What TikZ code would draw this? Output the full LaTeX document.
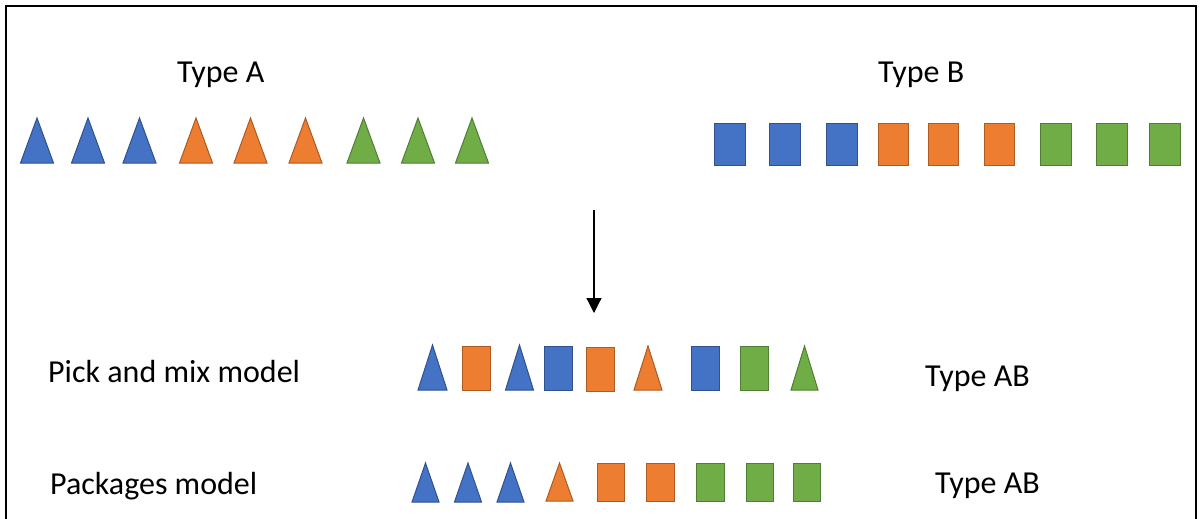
\documentclass[tikz,border=0pt]{standalone}
\usepackage{fontspec}
\setmainfont{Carlito}
\usetikzlibrary{arrows.meta}
\definecolor{cblue}{HTML}{4472C4}
\definecolor{cbluedk}{HTML}{2F528F}
\definecolor{corange}{HTML}{ED7D31}
\definecolor{corangedk}{HTML}{AE5A21}
\definecolor{cgreen}{HTML}{70AD47}
\definecolor{cgreendk}{HTML}{507E32}
\tikzset{
  bl/.style={fill=cblue,draw=cbluedk,line width=1pt},
  or/.style={fill=corange,draw=corangedk,line width=1pt},
  gr/.style={fill=cgreen,draw=cgreendk,line width=1pt},
  lbl/.style={anchor=base west,inner sep=0pt,font=\fontsize{32}{38}\selectfont},
}
% triangle: style, centre x, top y, bottom y, half width
\newcommand\mytri[5]{\draw[#1] (#2-#5,#4) -- (#2,#3) -- (#2+#5,#4) -- cycle;}
% box: style, left x, right x, top y, bottom y
\newcommand\mybox[5]{\draw[#1] (#2,#4) rectangle (#3,#5);}
\begin{document}
\begin{tikzpicture}[x=1pt,y=-1pt]
\useasboundingbox (0,0) rectangle (1203,519);
% frame
\draw[line width=2.2pt] (6,525) -- (6,6) -- (1196,6) -- (1196,525);
% labels
\node[lbl] (ta) at (177,82) {Type A};
\node[lbl] (tb) at (878,82) {Type B};
\node[lbl] (pm) at (48,382) {Pick and mix model};
\node[lbl] (pk) at (50,494) {Packages model};
\node[lbl] (ab1) at (925,386) {Type AB};
\node[lbl] (ab2) at (935,493) {Type AB};
% Type A triangles
\mytri{bl}{37}{118}{163}{16.5}
\mytri{bl}{88}{118}{163}{16.5}
\mytri{bl}{139.5}{118}{163}{16.5}
\mytri{or}{196}{118}{163}{16.5}
\mytri{or}{250.5}{118}{163}{16.5}
\mytri{or}{305.5}{118}{163}{16.5}
\mytri{gr}{363.5}{118}{163}{16.5}
\mytri{gr}{418}{118}{163}{16.5}
\mytri{gr}{472}{118}{163}{16.5}
% Type B boxes
\mybox{bl}{714}{745}{123}{165}
\mybox{bl}{769}{800}{123}{165}
\mybox{bl}{826}{857}{123}{165}
\mybox{or}{878}{908}{123}{165}
\mybox{or}{928}{958}{123}{165}
\mybox{or}{984}{1014}{123}{165}
\mybox{gr}{1040}{1071}{123}{165}
\mybox{gr}{1096}{1127}{123}{165}
\mybox{gr}{1149}{1180}{123}{165}
% arrow
\coordinate (as) at (594,210);
\coordinate (ae) at (594,313);
\draw[line width=1.2pt,-{Triangle[length=15pt,width=15pt]}] (as) -- (ae);
% pick and mix row
\mytri{bl}{432.5}{345}{390}{14.5}
\mybox{or}{462}{490}{346}{390}
\mytri{bl}{519.5}{345}{390}{14}
\mybox{bl}{544}{572}{346}{390}
\mybox{or}{586}{614}{347}{391}
\mytri{or}{648}{346}{390}{14}
\mybox{bl}{691}{719}{346}{390}
\mybox{gr}{740}{768}{346}{390}
\mytri{gr}{804.5}{346}{390}{13.5}
% packages row
\mytri{bl}{425.5}{463}{502}{13.5}
\mytri{bl}{468}{463}{502}{13.5}
\mytri{bl}{510.5}{463}{502}{13.5}
\mytri{or}{559.5}{463}{501}{13.5}
\mybox{or}{597}{624}{463}{501}
\mybox{or}{646}{674}{463}{501}
\mybox{gr}{696}{724}{463}{501}
\mybox{gr}{746}{773}{463}{501}
\mybox{gr}{793}{820}{463}{501}
\end{tikzpicture}
\end{document}
